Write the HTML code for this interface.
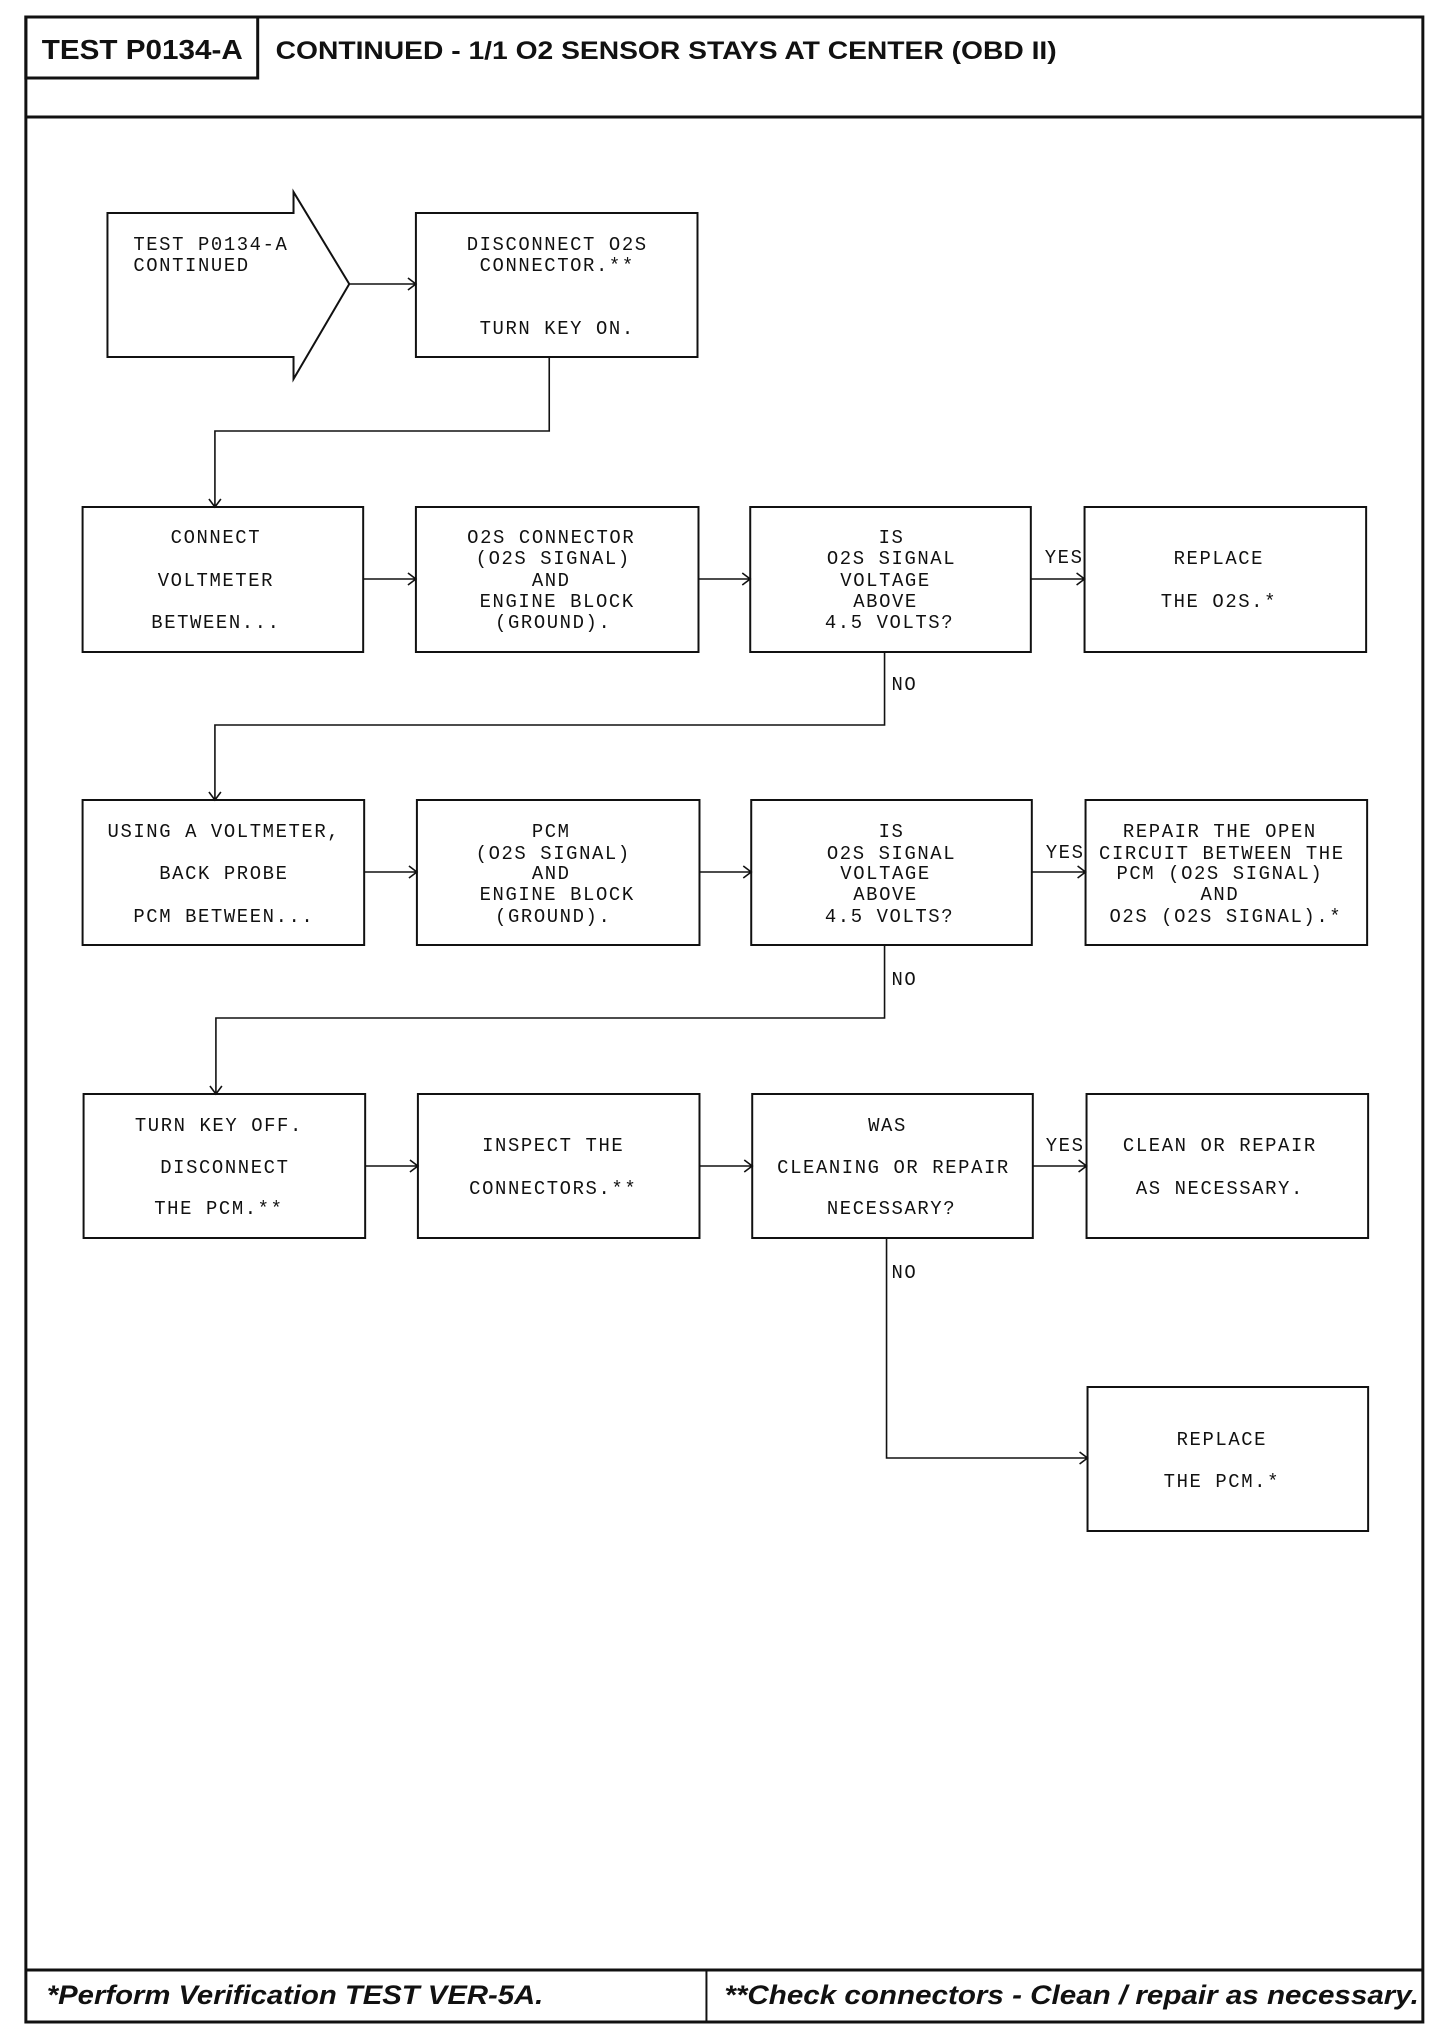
<!DOCTYPE html>
<html><head><meta charset="utf-8"><style>
html,body{margin:0;padding:0;background:#fff}
svg{display:block}
.m{font-family:"Liberation Mono",monospace;font-size:19px;letter-spacing:1.6px;fill:#111;text-anchor:middle}
.l{text-anchor:start}
.b{fill:none;stroke:#111;stroke-width:2}
.c{fill:none;stroke:#111;stroke-width:1.6}
</style></head><body>
<svg width="1456" height="2038" viewBox="0 0 1456 2038" xmlns="http://www.w3.org/2000/svg">
<g transform="scale(0.995,1)">
<!-- frame -->
<rect x="26" y="17" width="1404" height="2005" fill="none" stroke="#111" stroke-width="3"/>
<line x1="26" y1="117" x2="1430" y2="117" stroke="#111" stroke-width="3"/>
<rect x="26" y="17" width="233" height="61" fill="none" stroke="#111" stroke-width="3"/>
<text x="42" y="59" font-family="Liberation Sans, sans-serif" font-weight="bold" font-size="28" textLength="202" lengthAdjust="spacingAndGlyphs" fill="#111">TEST P0134-A</text>
<text x="277" y="59" font-family="Liberation Sans, sans-serif" font-weight="bold" font-size="25" textLength="785" lengthAdjust="spacingAndGlyphs" fill="#111">CONTINUED - 1/1 O2 SENSOR STAYS AT CENTER (OBD II)</text>
<line x1="26" y1="1970" x2="1430" y2="1970" stroke="#111" stroke-width="3"/>
<line x1="710" y1="1970" x2="710" y2="2022" stroke="#111" stroke-width="2"/>
<text x="47" y="2004" font-family="Liberation Sans, sans-serif" font-weight="bold" font-style="italic" font-size="27" textLength="499" lengthAdjust="spacingAndGlyphs" fill="#111">*Perform Verification TEST VER-5A.</text>
<text x="728" y="2004" font-family="Liberation Sans, sans-serif" font-weight="bold" font-style="italic" font-size="27" textLength="698" lengthAdjust="spacingAndGlyphs" fill="#111">**Check connectors - Clean / repair as necessary.</text>

<!-- row 1 -->
<path class="b" d="M108 213 H295 V192 L351 284 L295 379 V357 H108 Z"/>
<text class="m l" x="134" y="250">TEST P0134-A</text>
<text class="m l" x="134" y="271">CONTINUED</text>
<rect class="b" x="418" y="213" width="283" height="144"/>
<text class="m" x="560" y="250">DISCONNECT O2S</text>
<text class="m" x="560" y="271">CONNECTOR.**</text>
<text class="m" x="560" y="334">TURN KEY ON.</text>
<path class="c" d="M351 284 H418 M410 278 L418 284 L410 290"/>
<path class="c" d="M552 357 V431 H216 V507 M210 499 L216 507 L222 499"/>

<!-- row 2 -->
<rect class="b" x="83" y="507" width="282" height="145"/>
<text class="m" x="217" y="543">CONNECT</text>
<text class="m" x="217" y="586">VOLTMETER</text>
<text class="m" x="217" y="628">BETWEEN...</text>
<rect class="b" x="418" y="507" width="284" height="145"/>
<text class="m" x="554" y="543">O2S CONNECTOR</text>
<text class="m" x="556" y="564">(O2S SIGNAL)</text>
<text class="m" x="554" y="586">AND</text>
<text class="m" x="560" y="607">ENGINE BLOCK</text>
<text class="m" x="556" y="628">(GROUND).</text>
<rect class="b" x="754" y="507" width="282" height="145"/>
<text class="m" x="896" y="543">IS</text>
<text class="m" x="896" y="564">O2S SIGNAL</text>
<text class="m" x="890" y="586">VOLTAGE</text>
<text class="m" x="890" y="607">ABOVE</text>
<text class="m" x="894" y="628">4.5 VOLTS?</text>
<rect class="b" x="1090" y="507" width="283" height="145"/>
<text class="m" x="1225" y="564">REPLACE</text>
<text class="m" x="1225" y="607">THE O2S.*</text>
<path class="c" d="M365 579 H418 M410 573 L418 579 L410 585"/>
<path class="c" d="M702 579 H754 M746 573 L754 579 L746 585"/>
<path class="c" d="M1036 579 H1090 M1082 573 L1090 579 L1082 585"/>
<text class="m l" x="1050" y="563">YES</text>
<path class="c" d="M889 652 V725 H216 V800 M210 792 L216 800 L222 792"/>
<text class="m l" x="896" y="690">NO</text>

<!-- row 3 -->
<rect class="b" x="83" y="800" width="283" height="145"/>
<text class="m" x="225" y="837">USING A VOLTMETER,</text>
<text class="m" x="225" y="879">BACK PROBE</text>
<text class="m" x="225" y="922">PCM BETWEEN...</text>
<rect class="b" x="419" y="800" width="284" height="145"/>
<text class="m" x="554" y="837">PCM</text>
<text class="m" x="556" y="859">(O2S SIGNAL)</text>
<text class="m" x="554" y="879">AND</text>
<text class="m" x="560" y="900">ENGINE BLOCK</text>
<text class="m" x="556" y="922">(GROUND).</text>
<rect class="b" x="755" y="800" width="282" height="145"/>
<text class="m" x="896" y="837">IS</text>
<text class="m" x="896" y="859">O2S SIGNAL</text>
<text class="m" x="890" y="879">VOLTAGE</text>
<text class="m" x="890" y="900">ABOVE</text>
<text class="m" x="894" y="922">4.5 VOLTS?</text>
<rect class="b" x="1091" y="800" width="283" height="145"/>
<text class="m" x="1226" y="837">REPAIR THE OPEN</text>
<text class="m" x="1228" y="859">CIRCUIT BETWEEN THE</text>
<text class="m" x="1226" y="879">PCM (O2S SIGNAL)</text>
<text class="m" x="1226" y="900">AND</text>
<text class="m" x="1232" y="922">O2S (O2S SIGNAL).*</text>
<path class="c" d="M366 872 H419 M411 866 L419 872 L411 878"/>
<path class="c" d="M703 872 H755 M747 866 L755 872 L747 878"/>
<path class="c" d="M1037 872 H1091 M1083 866 L1091 872 L1083 878"/>
<text class="m l" x="1051" y="858">YES</text>
<path class="c" d="M889 945 V1018 H217 V1094 M211 1086 L217 1094 L223 1086"/>
<text class="m l" x="896" y="985">NO</text>

<!-- row 4 -->
<rect class="b" x="84" y="1094" width="283" height="144"/>
<text class="m" x="220" y="1131">TURN KEY OFF.</text>
<text class="m" x="226" y="1173">DISCONNECT</text>
<text class="m" x="220" y="1214">THE PCM.**</text>
<rect class="b" x="420" y="1094" width="283" height="144"/>
<text class="m" x="556" y="1151">INSPECT THE</text>
<text class="m" x="556" y="1194">CONNECTORS.**</text>
<rect class="b" x="756" y="1094" width="282" height="144"/>
<text class="m" x="892" y="1131">WAS</text>
<text class="m" x="898" y="1173">CLEANING OR REPAIR</text>
<text class="m" x="896" y="1214">NECESSARY?</text>
<rect class="b" x="1092" y="1094" width="283" height="144"/>
<text class="m" x="1226" y="1151">CLEAN OR REPAIR</text>
<text class="m" x="1226" y="1194">AS NECESSARY.</text>
<path class="c" d="M367 1166 H420 M412 1160 L420 1166 L412 1172"/>
<path class="c" d="M703 1166 H756 M748 1160 L756 1166 L748 1172"/>
<path class="c" d="M1038 1166 H1092 M1084 1160 L1092 1166 L1084 1172"/>
<text class="m l" x="1051" y="1151">YES</text>
<text class="m l" x="896" y="1278">NO</text>
<path class="c" d="M891 1238 V1458 H1093 M1085 1452 L1093 1458 L1085 1464"/>

<rect class="b" x="1093" y="1387" width="282" height="144"/>
<text class="m" x="1228" y="1445">REPLACE</text>
<text class="m" x="1228" y="1487">THE PCM.*</text>
</g>
</svg>
</body></html>
